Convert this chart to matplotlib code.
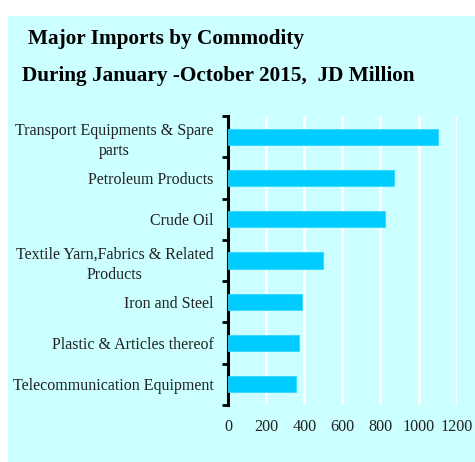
import matplotlib
matplotlib.use('Agg')
import matplotlib.pyplot as plt
from matplotlib.patches import Rectangle
import numpy as np

# data (JD Million, Jan-Oct 2015)
commodities = ['Transport Equipments & Spare\nparts', 'Petroleum Products', 'Crude Oil',
               'Textile Yarn,Fabrics & Related\nProducts', 'Iron and Steel',
               'Plastic & Articles thereof', 'Telecommunication Equipment']
values = [1104, 870, 824, 500, 387, 373, 357]
xticks = [0, 200, 400, 600, 800, 1000, 1200]

W, H = 475, 462
plt.rcParams['font.family'] = ['Liberation Serif', 'DejaVu Serif']

fig = plt.figure(figsize=(W / 100, H / 100), dpi=100, facecolor='white')

# light cyan panel behind everything
fig.patches.append(Rectangle((8 / W, 0), (W - 8) / W, (H - 16) / H,
                             transform=fig.transFigure, facecolor='#CCFFFF',
                             edgecolor='none', zorder=-1))

fig.text(28 / W, 1 - 39 / H, 'Major Imports by Commodity', fontsize=15.3,
         fontweight='bold', va='center', ha='left')
fig.text(22 / W, 1 - 76 / H, 'During January -October 2015,  JD Million', fontsize=15.3,
         fontweight='bold', va='center', ha='left')

ax = fig.add_axes([228 / W, 1 - 405 / H, (456.7 - 228) / W, (405 - 116) / H])
ax.set_zorder(2)
ax.patch.set_alpha(0)

y = np.arange(len(commodities))
ax.barh(y, values, height=0.39, color='#00CCFF', edgecolor='#33D6FF', linewidth=0.6, zorder=3)
ax.set_ylim(len(commodities) - 0.5, -0.5)
ax.set_xlim(0, 1200)

ax.set_xticks(xticks)
ax.set_xticklabels([str(t) for t in xticks], fontsize=11.6)
ax.tick_params(axis='x', length=0, pad=10, colors='#222222')
ax.xaxis.grid(True, color='white', linewidth=2, zorder=1)
ax.set_axisbelow(True)

ax.set_yticks(y)
ax.set_yticklabels(commodities, fontsize=11.5, multialignment='center', linespacing=1.4)
ax.tick_params(axis='y', which='major', length=0, pad=10.5, colors='#222222')
ax.set_yticks(np.arange(-0.5, len(commodities)), minor=True)
ax.tick_params(axis='y', which='minor', length=4, width=2, direction='out', color='black')

for side in ['top', 'right', 'bottom']:
    ax.spines[side].set_visible(False)
ax.spines['left'].set_linewidth(2.2)

fig.savefig('out.png', dpi=100, facecolor='white')
